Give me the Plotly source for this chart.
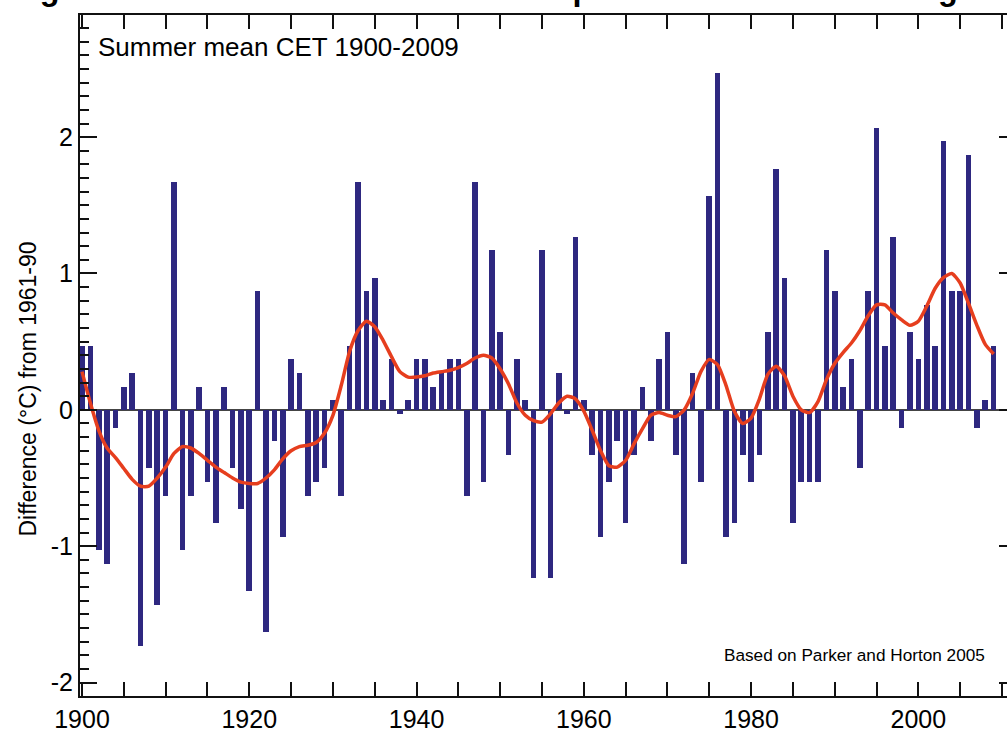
import plotly.graph_objects as go

years = list(range(1900, 2010))

anomaly = [
    0.47, 0.47, -1.03, -1.13, -0.13, 0.17, 0.27, -1.73, -0.43, -1.43,   # 1900s
    -0.63, 1.67, -1.03, -0.63, 0.17, -0.53, -0.83, 0.17, -0.43, -0.73,  # 1910s
    -1.33, 0.87, -1.63, -0.23, -0.93, 0.37, 0.27, -0.63, -0.53, -0.43,  # 1920s
    0.07, -0.63, 0.47, 1.67, 0.87, 0.97, 0.07, 0.37, -0.03, 0.07,       # 1930s
    0.37, 0.37, 0.17, 0.27, 0.37, 0.37, -0.63, 1.67, -0.53, 1.17,       # 1940s
    0.57, -0.33, 0.37, 0.07, -1.23, 1.17, -1.23, 0.27, -0.03, 1.27,     # 1950s
    0.07, -0.33, -0.93, -0.53, -0.23, -0.83, -0.33, 0.17, -0.23, 0.37,  # 1960s
    0.57, -0.33, -1.13, 0.27, -0.53, 1.57, 2.47, -0.93, -0.83, -0.33,   # 1970s
    -0.53, -0.33, 0.57, 1.77, 0.97, -0.83, -0.53, -0.53, -0.53, 1.17,   # 1980s
    0.87, 0.17, 0.37, -0.43, 0.87, 2.07, 0.47, 1.27, -0.13, 0.57,       # 1990s
    0.37, 0.77, 0.47, 1.97, 0.87, 0.87, 1.87, -0.13, 0.07, 0.47,        # 2000s
]

smoothed = [
    0.28, 0.05, -0.15, -0.28, -0.35, -0.43, -0.51, -0.56, -0.56, -0.50,
    -0.42, -0.32, -0.27, -0.28, -0.32, -0.37, -0.42, -0.46, -0.50, -0.53,
    -0.54, -0.54, -0.50, -0.44, -0.36, -0.30, -0.27, -0.26, -0.24, -0.17,
    -0.04, 0.18, 0.43, 0.58, 0.65, 0.61, 0.51, 0.39, 0.28, 0.24,
    0.24, 0.25, 0.27, 0.28, 0.29, 0.31, 0.34, 0.38, 0.40, 0.38,
    0.30, 0.19, 0.05, -0.04, -0.08, -0.09, -0.03, 0.05, 0.10, 0.08,
    -0.01, -0.15, -0.30, -0.41, -0.42, -0.37, -0.25, -0.14, -0.04, -0.02,
    -0.04, -0.05, 0.00, 0.12, 0.28, 0.37, 0.33, 0.18, -0.01, -0.10,
    -0.06, 0.08, 0.26, 0.32, 0.25, 0.10, 0.00, -0.02, 0.06, 0.22,
    0.34, 0.42, 0.49, 0.58, 0.69, 0.77, 0.77, 0.71, 0.66, 0.62,
    0.65, 0.76, 0.89, 0.97, 1.00, 0.93, 0.78, 0.62, 0.48, 0.41,
]

x_ticks = [1900, 1920, 1940, 1960, 1980, 2000]
y_ticks = [-2, -1, 0, 1, 2]

FONT = "Liberation Sans, Arial, Helvetica, sans-serif"
BAR_COLOR = "rgb(46,40,128)"
LINE_COLOR = "rgb(230,62,30)"
AX = "#111111"
Y_RANGE = [-2.099, 2.896]

fig = go.Figure()
fig.add_trace(go.Bar(
    x=years, y=anomaly, width=0.68,
    marker=dict(color=BAR_COLOR, line=dict(width=0)),
    showlegend=False, hoverinfo="x+y",
))
fig.add_trace(go.Scatter(
    x=years, y=smoothed, mode="lines", yaxis="y2",
    line=dict(color=LINE_COLOR, width=3.5, shape="spline", smoothing=0.6),
    showlegend=False,
))

fig.update_layout(
    width=1007, height=733,
    margin=dict(l=80, r=0, t=15, b=35),
    paper_bgcolor="white", plot_bgcolor="white",
    font=dict(family=FONT, color="black", size=25),
    bargap=0,
    xaxis=dict(
        range=[1899.76, 2010.6],
        tickmode="array", tickvals=x_ticks, ticktext=[str(v) for v in x_ticks],
        ticks="inside", ticklen=14, tickwidth=2, tickcolor=AX,
        minor=dict(dtick=5, tick0=1900, ticks="inside", ticklen=7, tickwidth=2, tickcolor=AX),
        showline=True, linecolor=AX, linewidth=2, mirror="allticks",
        showgrid=False, zeroline=False,
        tickfont=dict(size=25, family=FONT),
    ),
    yaxis=dict(
        range=Y_RANGE,
        tickmode="array", tickvals=y_ticks, ticktext=[str(v) for v in y_ticks],
        ticks="inside", ticklen=17, tickwidth=2, tickcolor=AX,
        minor=dict(dtick=0.1, tick0=0, ticks="inside", ticklen=9, tickwidth=2, tickcolor=AX),
        showline=True, linecolor=AX, linewidth=2, mirror=False,
        showgrid=False,
        zeroline=True, zerolinecolor="#444444", zerolinewidth=2,
        tickfont=dict(size=25, family=FONT),
    ),
    yaxis2=dict(
        range=Y_RANGE, overlaying="y", side="right", anchor="free", position=1,
        tickmode="array", tickvals=y_ticks,
        ticks="inside", ticklen=8, tickwidth=2, tickcolor=AX,
        showticklabels=False, showline=False, showgrid=False, zeroline=False,
    ),
    annotations=[
        dict(text="Summer mean CET 1900-2009", xref="paper", yref="paper",
             x=0, y=1, xshift=16, yshift=-32, xanchor="left", yanchor="middle",
             showarrow=False, font=dict(size=26, family=FONT, color="black")),
        dict(text="Based on Parker and Horton 2005", xref="paper", yref="paper",
             x=0, y=0, xshift=642, yshift=41, xanchor="left", yanchor="middle",
             showarrow=False, font=dict(size=17.2, family=FONT, color="black")),
        dict(text="Difference (°C) from 1961-90", xref="paper", yref="paper",
             x=0, y=0.5, xshift=-53, yshift=-34, xanchor="center", yanchor="middle",
             textangle=-90, showarrow=False,
             font=dict(size=23, family=FONT, color="black")),
        dict(text="<b>Figure 4: Historic mean summer temperatures for central England</b>",
             xref="paper", yref="paper", x=0, y=1, xshift=-71, yshift=6,
             xanchor="left", yanchor="bottom", showarrow=False,
             font=dict(size=32.4, family=FONT, color="black")),
    ],
)

fig.write_html(
    "out.html",
    config={"displayModeBar": False},
    post_script="document.body.style.margin='0px';document.body.style.overflow='hidden';",
)
